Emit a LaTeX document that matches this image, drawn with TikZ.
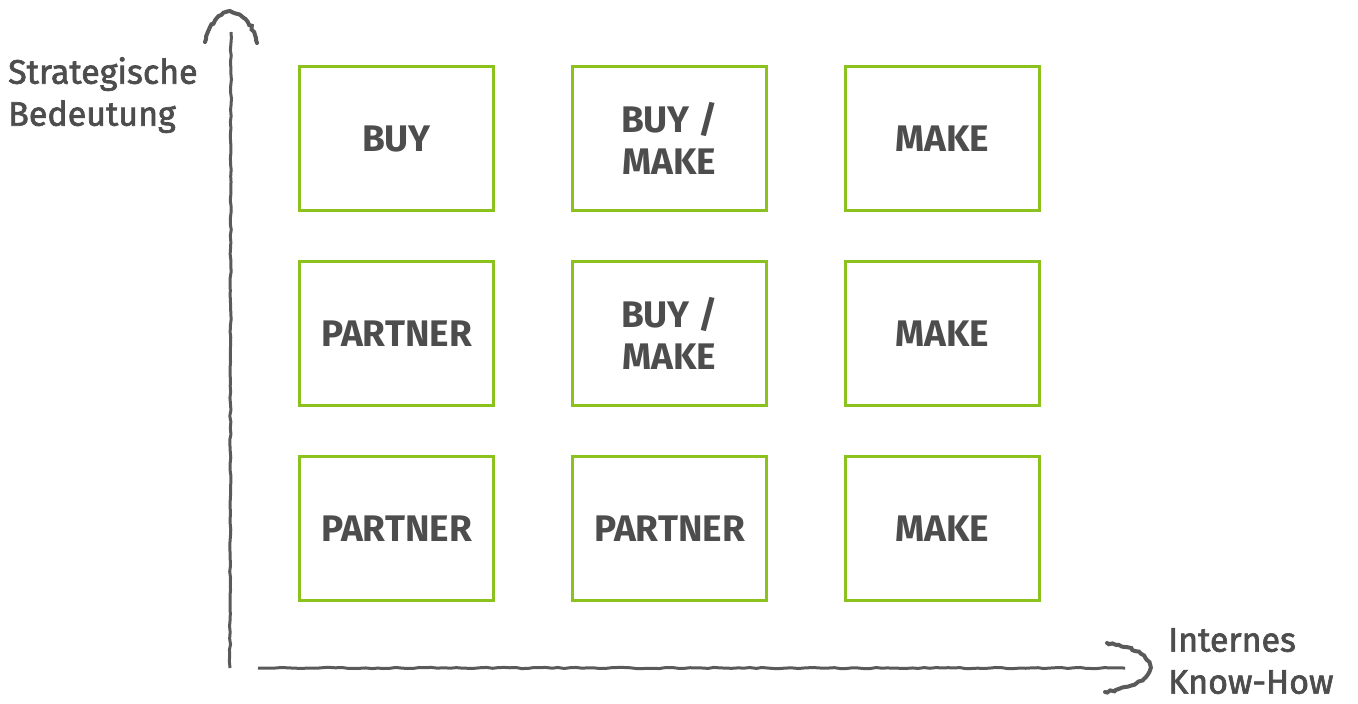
\documentclass[tikz,border=0pt]{standalone}
\usepackage{fontspec}
\setmainfont{Fira Sans}
\newfontfamily\labelfont{Fira Sans}[FakeBold=2]
\usepackage{tikz}
\usetikzlibrary{positioning}
\usetikzlibrary{decorations.pathmorphing}
\definecolor{mgreen}{HTML}{8CC21E}
\definecolor{mgrey}{HTML}{4D4D4D}
\definecolor{maxis}{HTML}{5A5A5A}
\tikzset{
  field/.style={draw=mgreen, line width=3pt, minimum width=194pt, minimum height=144pt,
    align=center, text=mgrey, font=\fontsize{37}{42}\selectfont\bfseries},
  axislabel/.style={text=mgrey, align=left, font=\fontsize{34}{42}\labelfont},
  axisline/.style={draw=maxis, line width=3pt, decorate,
    decoration={random steps, segment length=6pt, amplitude=0.6pt}},
  axishead/.style={draw=maxis, line width=4pt, line cap=round, decorate,
    decoration={random steps, segment length=3pt, amplitude=1pt}}
}

\begin{document}
\begin{tikzpicture}[x=1pt, y=-1pt]
    \useasboundingbox (0, 0) rectangle (1358, 704);

    % matrix of fields
    \node [field] (buy) at (396.5, 138.5) {BUY};
    \node [field, right=76pt of buy] (buymake1) {BUY /\\MAKE};
    \node [field, right=76pt of buymake1] (make1) {MAKE};
    \node [field, below=48pt of buy] (partner1) {PARTNER};
    \node [field, right=76pt of partner1] (buymake2) {BUY /\\MAKE};
    \node [field, right=76pt of buymake2] (make2) {MAKE};
    \node [field, below=48pt of partner1] (partner2) {PARTNER};
    \node [field, right=76pt of partner2] (partner3) {PARTNER};
    \node [field, right=76pt of partner3] (make3) {MAKE};

    % axes
    \coordinate (yfoot) at (230, 668);
    \coordinate (ytip) at (231, 32);
    \coordinate (xfoot) at (258, 668);
    \coordinate (xtip) at (1125, 668);
    \draw [axisline] (yfoot) -- (ytip);
    \draw [axisline] (xfoot) -- (xtip);
    \draw [axishead] (205, 42) .. controls (214, 2) and (248, 2) .. (257, 43); % top arrowhead
    \draw [axishead] (1107, 643) .. controls (1165, 652) and (1165, 683) .. (1105, 692); % right arrowhead

    \node [axislabel, anchor=north west, inner sep=0pt] (ylabel) at (8, 57) {Strategische\\Bedeutung};
    \node [axislabel, anchor=north west, inner sep=0pt] (xlabel) at (1168, 628) {Internes\\Know-How};
\end{tikzpicture}
\end{document}
